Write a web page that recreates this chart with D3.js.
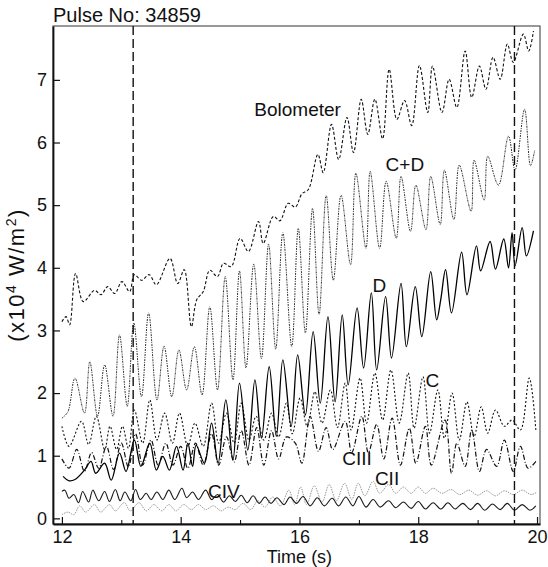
<!DOCTYPE html>
<html>
<head>
<meta charset="utf-8">
<script src="https://cdn.jsdelivr.net/npm/d3@7"></script>
<style>
  body { margin: 0; background: #fff; }
  text { font-family: "Liberation Sans", Arial, sans-serif; fill: #111; }
</style>
</head>
<body>
<div id="general"></div>
<script>
// values: [time (s), power (x10^4 W/m2)]
const bolometer = [[12.0,3.14],[12.07,3.22],[12.13,3.09],[12.23,3.91],[12.36,3.46],[12.55,3.64],[12.66,3.57],[12.77,3.70],[12.89,3.59],[13.01,3.78],[13.14,3.62],[13.22,3.89],[13.34,3.80],[13.47,3.89],[13.59,3.73],[13.82,4.15],[13.95,3.75],[14.06,3.97],[14.18,3.06],[14.27,3.49],[14.38,3.62],[14.49,3.96],[14.62,3.86],[14.72,4.07],[14.85,4.02],[15.00,4.47],[15.14,4.26],[15.31,4.74],[15.39,4.39],[15.56,4.82],[15.67,4.75],[15.81,5.03],[15.93,4.97],[16.04,5.18],[16.15,5.25],[16.31,5.81],[16.40,5.52],[16.54,6.29],[16.66,5.73],[16.80,6.40],[16.91,5.84],[17.04,6.69],[17.15,6.13],[17.27,6.69],[17.40,6.06],[17.51,7.17],[17.64,6.37],[17.77,6.67],[17.89,6.27],[18.02,7.23],[18.16,6.48],[18.24,7.22],[18.40,6.48],[18.52,7.01],[18.65,6.56],[18.79,7.46],[18.90,6.72],[19.03,7.22],[19.14,6.85],[19.26,7.36],[19.38,7.01],[19.50,7.57],[19.60,7.28],[19.77,7.73],[19.86,7.46],[19.94,7.78]];

const cPlusD = [[12.0,1.60],[12.10,1.70],[12.22,2.24],[12.38,1.68],[12.47,2.50],[12.60,1.63],[12.72,2.45],[12.86,1.63],[12.97,2.93],[13.10,1.79],[13.21,3.12],[13.34,1.94],[13.46,3.28],[13.60,1.89],[13.72,2.75],[13.85,1.94],[13.97,2.69],[14.10,2.05],[14.23,2.74],[14.36,1.97],[14.49,3.38],[14.62,2.05],[14.75,3.86],[14.88,2.21],[14.99,3.95],[15.10,2.40],[15.23,4.06],[15.36,2.55],[15.48,4.38],[15.60,2.70],[15.72,4.56],[15.87,2.74],[15.98,4.63],[16.10,2.96],[16.22,4.95],[16.33,3.25],[16.45,5.16],[16.57,3.80],[16.70,5.16],[16.86,4.05],[16.95,5.51],[17.12,4.31],[17.19,5.54],[17.35,4.31],[17.46,5.38],[17.63,4.47],[17.71,5.46],[17.87,4.58],[17.96,5.32],[18.13,4.61],[18.21,5.46],[18.37,4.69],[18.44,5.56],[18.60,4.77],[18.69,5.64],[18.89,4.90],[18.94,5.72],[19.11,5.08],[19.17,5.78],[19.35,5.32],[19.52,6.10],[19.63,5.56],[19.79,6.53],[19.89,5.63],[19.96,5.87]];

const dAlpha = [[12.02,0.67],[12.12,0.60],[12.22,0.62],[12.38,0.77],[12.49,0.91],[12.57,0.72],[12.72,0.88],[12.83,0.61],[12.97,1.04],[13.08,0.75],[13.22,1.25],[13.33,0.83],[13.48,1.20],[13.59,0.77],[13.70,0.99],[13.81,0.77],[13.93,1.15],[14.04,0.77],[14.12,1.20],[14.20,0.83],[14.26,1.17],[14.40,0.88],[14.52,1.52],[14.63,0.88],[14.76,1.89],[14.88,0.93],[14.99,2.16],[15.13,1.09],[15.25,2.21],[15.36,1.28],[15.49,2.42],[15.61,1.31],[15.72,2.53],[15.86,1.47],[15.97,2.61],[16.10,1.65],[16.23,2.98],[16.35,1.84],[16.48,3.22],[16.60,1.86],[16.72,3.25],[16.82,2.13],[16.97,3.36],[17.08,2.40],[17.21,3.60],[17.30,2.37],[17.45,3.54],[17.55,2.56],[17.71,3.75],[17.80,2.74],[17.95,3.70],[18.06,2.90],[18.21,3.94],[18.31,3.17],[18.38,3.50],[18.46,3.97],[18.56,3.28],[18.73,4.25],[18.82,3.57],[18.98,4.35],[19.05,3.95],[19.21,4.42],[19.30,3.98],[19.44,4.46],[19.52,4.00],[19.58,4.56],[19.63,4.03],[19.75,4.64],[19.82,4.19],[19.94,4.59]];

const carbon = [[12.0,1.47],[12.12,1.15],[12.33,1.55],[12.45,1.18],[12.58,1.63],[12.72,1.10],[12.81,1.47],[12.92,1.10],[13.02,1.47],[13.12,1.12],[13.22,1.73],[13.36,1.20],[13.48,1.89],[13.60,1.25],[13.73,1.68],[13.86,1.20],[13.98,1.68],[14.12,1.15],[14.24,1.52],[14.38,1.15],[14.52,1.84],[14.64,1.20],[14.77,1.68],[14.90,1.20],[15.02,1.84],[15.15,1.25],[15.27,1.63],[15.40,1.25],[15.53,1.68],[15.65,1.30],[15.78,1.84],[15.88,1.35],[16.01,1.92],[16.13,1.47],[16.26,2.02],[16.38,1.52],[16.52,2.05],[16.64,1.45],[16.77,2.16],[16.87,1.41],[17.02,2.24],[17.13,1.52],[17.27,2.32],[17.40,1.57],[17.54,2.37],[17.68,1.52],[17.83,2.32],[17.93,1.44],[18.08,2.26],[18.19,1.36],[18.33,2.05],[18.44,1.28],[18.57,2.00],[18.69,1.25],[18.82,1.86],[18.94,1.31],[19.06,1.78],[19.17,1.36],[19.30,1.73],[19.45,1.47],[19.58,1.57],[19.72,1.41],[19.87,2.24],[19.98,1.41]];

const cIII = [[12.0,0.95],[12.12,0.80],[12.25,1.10],[12.38,0.75],[12.50,1.05],[12.62,0.80],[12.75,1.15],[12.87,0.78],[13.00,1.20],[13.12,0.82],[13.24,1.35],[13.36,0.85],[13.50,1.25],[13.62,0.85],[13.75,1.20],[13.87,0.85],[14.00,1.15],[14.12,0.80],[14.25,1.20],[14.38,0.85],[14.52,1.35],[14.64,0.85],[14.77,1.30],[14.90,0.90],[15.02,1.40],[15.15,0.85],[15.28,1.45],[15.40,0.85],[15.53,1.40],[15.65,0.95],[15.78,1.30],[15.93,1.20],[16.04,0.88],[16.18,1.63],[16.32,1.07],[16.45,1.45],[16.56,1.10],[16.77,1.55],[16.88,1.05],[17.05,1.63],[17.16,1.05],[17.30,1.50],[17.42,0.95],[17.56,1.60],[17.70,0.85],[17.85,1.44],[17.96,0.88],[18.12,1.47],[18.22,0.85],[18.45,1.57],[18.56,0.72],[18.65,1.20],[18.79,0.83],[18.90,1.41],[19.03,0.75],[19.15,1.10],[19.32,0.83],[19.45,1.25],[19.60,0.75],[19.72,1.15],[19.85,0.80],[19.98,0.91]];

const cIV = [[12.0,0.43],[12.05,0.45],[12.12,0.32],[12.20,0.38],[12.28,0.25],[12.35,0.43],[12.45,0.26],[12.52,0.45],[12.62,0.28],[12.72,0.43],[12.80,0.27],[12.90,0.46],[12.98,0.28],[13.06,0.42],[13.16,0.28],[13.24,0.46],[13.32,0.30],[13.42,0.40],[13.50,0.30],[13.60,0.42],[13.70,0.30],[13.80,0.45],[13.90,0.30],[14.02,0.48],[14.10,0.33],[14.20,0.42],[14.30,0.30],[14.42,0.45],[14.52,0.30],[14.62,0.38],[14.72,0.26],[14.82,0.36],[14.92,0.27],[15.02,0.37],[15.12,0.25],[15.22,0.36],[15.32,0.24],[15.42,0.34],[15.52,0.24],[15.62,0.33],[15.74,0.22],[15.84,0.34],[15.95,0.24],[16.06,0.35],[16.18,0.20],[16.30,0.33],[16.42,0.20],[16.55,0.32],[16.66,0.20],[16.78,0.34],[16.90,0.20],[17.00,0.35],[17.12,0.18],[17.24,0.30],[17.36,0.18],[17.50,0.28],[17.62,0.17],[17.75,0.26],[17.88,0.16],[18.00,0.27],[18.12,0.15],[18.25,0.25],[18.38,0.15],[18.50,0.25],[18.62,0.15],[18.75,0.24],[18.88,0.14],[19.00,0.24],[19.12,0.13],[19.25,0.23],[19.38,0.14],[19.50,0.24],[19.62,0.13],[19.75,0.22],[19.88,0.13],[19.98,0.20]];

const cII = [[12.0,0.06],[12.1,0.10],[12.2,0.06],[12.3,0.20],[12.4,0.10],[12.55,0.22],[12.65,0.10],[12.8,0.22],[12.9,0.12],[13.05,0.25],[13.15,0.12],[13.3,0.25],[13.42,0.12],[13.55,0.22],[13.68,0.12],[13.8,0.22],[13.92,0.12],[14.05,0.22],[14.18,0.14],[14.3,0.22],[14.42,0.14],[14.55,0.20],[14.68,0.12],[14.8,0.18],[14.92,0.14],[15.05,0.24],[15.18,0.14],[15.3,0.28],[15.42,0.18],[15.55,0.34],[15.68,0.20],[15.82,0.45],[15.92,0.22],[16.02,0.50],[16.12,0.22],[16.25,0.52],[16.38,0.26],[16.5,0.54],[16.62,0.28],[16.76,0.56],[16.88,0.30],[16.99,0.56],[17.1,0.36],[17.24,0.59],[17.35,0.40],[17.5,0.54],[17.62,0.40],[17.75,0.50],[17.88,0.40],[18.0,0.50],[18.12,0.40],[18.25,0.48],[18.4,0.40],[18.55,0.46],[18.7,0.38],[18.85,0.45],[19.0,0.37],[19.15,0.44],[19.3,0.36],[19.45,0.44],[19.6,0.38],[19.75,0.45],[19.9,0.38],[20.0,0.42]];

const markerTimes = [13.2, 19.62];
const xTicks = [12, 14, 16, 18, 20];
const xMinor = [13, 15, 17, 19];
const yTicks = [0, 1, 2, 3, 4, 5, 6, 7];

const w = 548, h = 567;
const m = { l: 53, t: 26, r: 8, b: 43 };

const svg = d3.select("#general").append("svg").attr("width", w).attr("height", h);

const x = d3.scaleLinear().domain([11.85, 20.05]).range([m.l, w - m.r]);
const y = d3.scaleLinear().domain([-0.09, 7.86]).range([h - m.b, m.t]);

svg.append("clipPath").attr("id", "plot")
  .append("rect").attr("x", m.l).attr("y", m.t).attr("width", w - m.r - m.l).attr("height", h - m.b - m.t);

// frame
svg.append("rect")
  .attr("x", m.l).attr("y", m.t).attr("width", w - m.r - m.l).attr("height", h - m.b - m.t)
  .attr("fill", "none").attr("stroke", "#333").attr("stroke-width", 1);

const line = d3.line().x(d => x(d[0])).y(d => y(d[1])).curve(d3.curveCatmullRom.alpha(0.5));

const series = [
  { data: cII, stroke: "#999", width: 1, dash: "1.5,1" },
  { data: cIV, stroke: "#1a1a1a", width: 1.1, dash: null },
  { data: cIII, stroke: "#111", width: 1.2, dash: "5,2,1,2" },
  { data: carbon, stroke: "#111", width: 1.1, dash: "2,2" },
  { data: dAlpha, stroke: "#000", width: 1.3, dash: null },
  { data: cPlusD, stroke: "#333", width: 1, dash: "2,1,1,1" },
  { data: bolometer, stroke: "#111", width: 1.1, dash: "3,2" }
];

const g = svg.append("g").attr("clip-path", "url(#plot)");

g.selectAll("path.series")
  .data(series)
  .join("path")
    .attr("class", "series")
    .attr("fill", "none")
    .attr("stroke", d => d.stroke)
    .attr("stroke-width", d => d.width)
    .attr("stroke-dasharray", d => d.dash)
    .attr("stroke-linejoin", "round")
    .attr("d", d => line(d.data));

g.selectAll("line.marker")
  .data(markerTimes)
  .join("line")
    .attr("class", "marker")
    .attr("x1", d => x(d)).attr("x2", d => x(d))
    .attr("y1", m.t).attr("y2", h - m.b)
    .attr("stroke", "#111").attr("stroke-width", 1.4)
    .attr("stroke-dasharray", "9,4");

// axes
const yAxis = svg.append("g").attr("transform", `translate(${m.l},0)`)
  .call(d3.axisLeft(y).tickValues(yTicks).tickSizeInner(-7).tickSizeOuter(0).tickPadding(6).tickFormat(d3.format("d")));
const xAxis = svg.append("g").attr("transform", `translate(0,${h - m.b})`)
  .call(d3.axisBottom(x).tickValues(xTicks).tickSizeInner(-7).tickSizeOuter(0).tickPadding(6).tickFormat(d3.format("d")));
svg.append("g").attr("transform", `translate(0,${h - m.b})`)
  .call(d3.axisBottom(x).tickValues(xMinor).tickSizeInner(-4).tickSizeOuter(0).tickFormat(""))
  .select(".domain").remove();

[yAxis, xAxis].forEach(a => {
  a.select(".domain").attr("stroke", "#111").attr("stroke-width", 1.8);
  a.selectAll("text").attr("font-size", 18).attr("font-family", "Liberation Sans, Arial, sans-serif").attr("fill", "#111");
  a.selectAll(".tick line").attr("stroke", "#111").attr("stroke-width", 1.2);
});

// titles
svg.append("text").attr("x", m.l).attr("y", 22).attr("font-size", 20).text("Pulse No: 34859");

svg.append("text").attr("x", x(16)).attr("y", 563).attr("font-size", 18).attr("text-anchor", "middle").text("Time (s)");

const yl = svg.append("text")
  .attr("transform", `translate(24,${(m.t + h - m.b) / 2}) rotate(-90)`)
  .attr("text-anchor", "middle").attr("font-size", 22).attr("letter-spacing", 1.5);
yl.append("tspan").text("(x10");
yl.append("tspan").attr("baseline-shift", "super").attr("font-size", 14).text("4");
yl.append("tspan").text(" W/m");
yl.append("tspan").attr("baseline-shift", "super").attr("font-size", 14).text("2");
yl.append("tspan").text(")");

// series labels
const labels = [
  { text: "Bolometer", t: 15.24, v: 6.42 },
  { text: "C+D", t: 17.45, v: 5.54 },
  { text: "D", t: 17.23, v: 3.62 },
  { text: "C", t: 18.12, v: 2.09 },
  { text: "CIII", t: 16.72, v: 0.85 },
  { text: "CII", t: 17.27, v: 0.54 },
  { text: "CIV", t: 14.46, v: 0.32 }
];
svg.selectAll("text.lab")
  .data(labels)
  .join("text")
    .attr("class", "lab")
    .attr("x", d => x(d.t)).attr("y", d => y(d.v))
    .attr("font-size", 19)
    .text(d => d.text);
</script>
</body>
</html>
